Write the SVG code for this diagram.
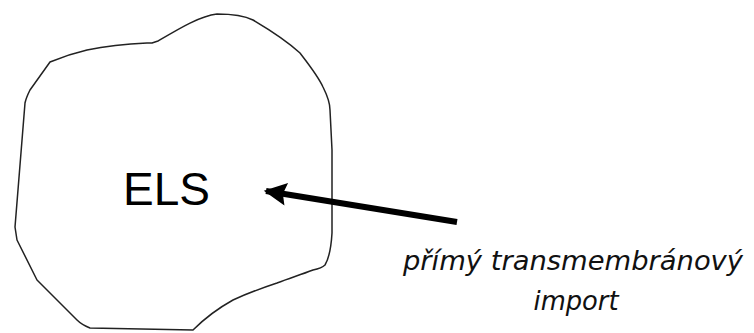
<svg xmlns="http://www.w3.org/2000/svg" width="754" height="333" viewBox="0 0 754 333">
<style>
.blob{fill:none;stroke:#222;stroke-width:1.5;stroke-linejoin:round}
.lbl{font-family:"DejaVu Sans","Liberation Sans",sans-serif;font-style:italic;font-size:26px;fill:#111}
.els{font-family:"Liberation Sans",Arial,sans-serif;font-size:46px;fill:#000}
</style>
<defs>
<marker id="ah" viewBox="0 0 10 10" refX="9" refY="5" markerWidth="4.2" markerHeight="3.8" orient="auto" markerUnits="strokeWidth">
<path d="M0,0 L10,5 L0,10 L1.5,5 Z" fill="#000"/>
</marker>
</defs>
<rect width="754" height="333" fill="#fff"/>
<g id="els">
<path class="blob" d="M152,43 L158,41 C180,28 200,16 217,14 C232,14 245,16 253,20 C270,30 288,42 300,53 C310,66 318,76 323,87 C328,97 330,104 330,110 L332,150 L332,233 C331,250 328,260 325,265 C322,268 318,269 313,270 C300,275 290,278 277,283 C262,288 248,293 233,300 C215,310 203,320 193,330 L90,328 C85,326 80,323 77,320 L37,280 L17,240 L15,227 L25,103 C26,98 28,94 30,90 L50,62 C62,57 74,53 87,50 C107,46 127,44 147,43 Z"/>
<text class="els" x="123" y="205">ELS</text>
</g>
<g id="connectors">
<line x1="457" y1="222" x2="266" y2="191" stroke="#000" stroke-width="6" marker-end="url(#ah)"/>
</g>
<g id="label">
<text class="lbl" x="573" y="270" text-anchor="middle" textLength="340" lengthAdjust="spacingAndGlyphs">přímý transmembránový</text>
<text class="lbl" x="576" y="310" text-anchor="middle" textLength="85" lengthAdjust="spacingAndGlyphs">import</text>
</g>
</svg>
